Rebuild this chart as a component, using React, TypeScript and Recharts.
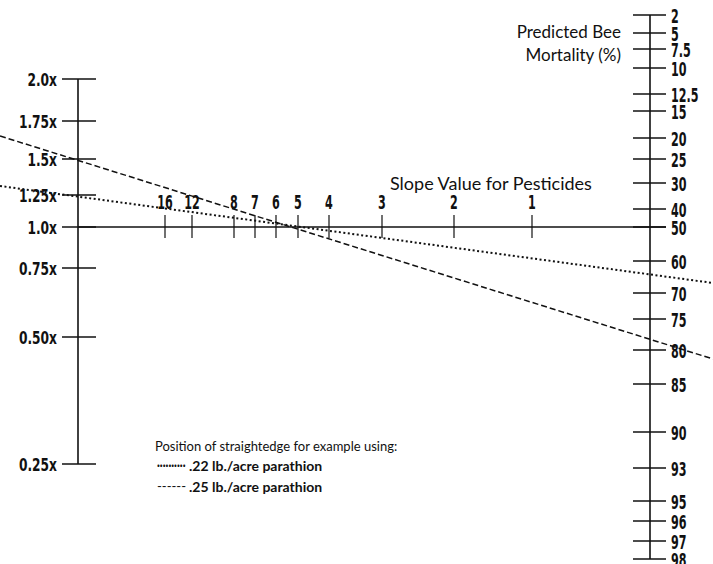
import React from 'react'
import { LineChart, Line, XAxis, YAxis, ReferenceLine, ReferenceDot } from 'recharts'

// left scale: pesticide rate multiplier
const leftScaleLabels = ['2.0x', '1.75x', '1.5x', '1.25x', '1.0x', '0.75x', '0.50x', '0.25x']
const leftScaleAt = [79, 121, 159, 195, 227, 268, 337, 464]

// right scale: predicted bee mortality (%)
const rightScaleLabels = ['2', '5', '7.5', '10', '12.5', '15', '20', '25', '30', '40', '50', '60', '70', '75', '80', '85', '90', '93', '95', '96', '97', '98']
const rightScaleAt = [15, 33, 49, 68, 94, 111, 138, 159, 183, 209, 227, 261, 293, 319, 350, 384, 432, 468, 501, 521, 541, 559]

// middle scale: slope value for pesticides
const slopeLabels = ['16', '12', '8', '7', '6', '5', '4', '3', '2', '1']
const slopeAt = [165, 192, 234, 255, 276, 298, 329, 382, 454, 532]

// straightedge examples (ends of the ruler)
const edgeX = [0, 713]
const dottedY = [186, 283]
const dashedY = [136, 359]
const edgeNames = ['.22 lb./acre parathion', '.25 lb./acre parathion']

const LEFT_X = 78
const RIGHT_X = 650
const MID_Y = 227

const INK = '#111'
const numFont = "'DejaVu Sans Condensed', 'DejaVu Sans', sans-serif"
const textFont = "Lato, 'Open Sans', sans-serif"

const dottedData = edgeX.map((x, i) => ({ x, y: dottedY[i] }))
const dashedData = edgeX.map((x, i) => ({ x, y: dashedY[i] }))

type TextOpts = { anchor?: string; dx?: number; dy?: number; size?: number; weight?: number; font?: string; squeeze?: number }

function textAt(key: string, x: number, y: number, text: string, opts: TextOpts) {
  const { anchor = 'start', dx = 0, dy = 0, size = 16, weight = 400, font = textFont, squeeze = 1 } = opts
  return (
    <ReferenceDot
      key={key}
      x={x}
      y={y}
      r={0}
      ifOverflow="visible"
      shape={(p: any) => (
        <text
          transform={`translate(${p.cx + dx},${p.cy + dy}) scale(${squeeze},1)`}
          x={0}
          y={0}
          textAnchor={anchor}
          dominantBaseline="central"
          fontSize={size}
          fontWeight={weight}
          fontFamily={font}
          fill={INK}
        >
          {text}
        </text>
      )}
    />
  )
}

function hTick(key: string, cx: number, y: number, left: number, right: number) {
  return (
    <ReferenceLine
      key={key}
      segment={[{ x: cx - left, y }, { x: cx + right, y }]}
      stroke={INK}
      strokeWidth={1.3}
      ifOverflow="visible"
    />
  )
}

export default function App() {
  return (
    <div style={{ position: 'relative', width: 713, height: 564, background: '#fff' }}>
      <style>{'body{margin:0}'}</style>
      <LineChart width={713} height={564} margin={{ top: 0, right: 0, bottom: 0, left: 0 }}>
        <XAxis type="number" dataKey="x" domain={[0, 713]} hide />
        <YAxis type="number" dataKey="y" domain={[0, 564]} reversed hide />

        {/* left scale */}
        <ReferenceLine segment={[{ x: LEFT_X, y: leftScaleAt[0] }, { x: LEFT_X, y: leftScaleAt[leftScaleAt.length - 1] }]} stroke={INK} strokeWidth={1.6} ifOverflow="visible" />
        {leftScaleAt.map((y, i) => hTick(`lt${i}`, LEFT_X, y, 16, 18))}
        {leftScaleAt.map((y, i) => textAt(`ll${i}`, LEFT_X, y, leftScaleLabels[i], { anchor: 'end', dx: -21, dy: 1, size: 17, weight: 700, font: numFont, squeeze: 0.8 }))}

        {/* right scale */}
        <ReferenceLine segment={[{ x: RIGHT_X, y: rightScaleAt[0] }, { x: RIGHT_X, y: rightScaleAt[rightScaleAt.length - 1] }]} stroke={INK} strokeWidth={1.6} ifOverflow="visible" />
        {rightScaleAt.map((y, i) => hTick(`rt${i}`, RIGHT_X, y, 17, 16))}
        {rightScaleAt.map((y, i) => textAt(`rl${i}`, RIGHT_X, y, rightScaleLabels[i], { anchor: 'start', dx: 21, dy: 1, size: 20, weight: 700, font: numFont, squeeze: 0.62 }))}

        {/* slope scale */}
        <ReferenceLine segment={[{ x: LEFT_X, y: MID_Y }, { x: RIGHT_X + 16, y: MID_Y }]} stroke={INK} strokeWidth={1.6} ifOverflow="visible" />
        {slopeAt.map((x, i) => (
          <ReferenceLine key={`st${i}`} segment={[{ x, y: MID_Y - 12 }, { x, y: MID_Y + 11 }]} stroke={INK} strokeWidth={1.2} ifOverflow="visible" />
        ))}
        {slopeAt.map((x, i) => textAt(`sl${i}`, x, MID_Y, slopeLabels[i], { anchor: 'middle', dy: -25, size: 20, weight: 700, font: numFont, squeeze: 0.62 }))}

        {/* scale titles */}
        {textAt('t1', 390, 183, 'Slope Value for Pesticides', { size: 18 })}
        {textAt('t2', 621, 31, 'Predicted Bee', { anchor: 'end', size: 17 })}
        {textAt('t3', 621, 54, 'Mortality (%)', { anchor: 'end', size: 17 })}

        {/* legend */}
        {textAt('g0', 155, 446, 'Position of straightedge for example using:', { size: 13 })}
        {textAt('g1', 157, 465, '··········', { size: 13, weight: 700, squeeze: 0.8 })}
        {textAt('g2', 189, 465, edgeNames[0], { size: 14, weight: 700 })}
        {textAt('g3', 157, 486, '------', { size: 13 })}
        {textAt('g4', 189, 486, edgeNames[1], { size: 14, weight: 700 })}

        <Line data={dottedData} dataKey="y" name={edgeNames[0]} stroke={INK} strokeWidth={2} strokeDasharray="2 2.5" strokeLinecap="butt" dot={false} activeDot={false} isAnimationActive={false} />
        <Line data={dashedData} dataKey="y" name={edgeNames[1]} stroke={INK} strokeWidth={1.5} strokeDasharray="6 3" strokeLinecap="butt" dot={false} activeDot={false} isAnimationActive={false} />
      </LineChart>
    </div>
  )
}
